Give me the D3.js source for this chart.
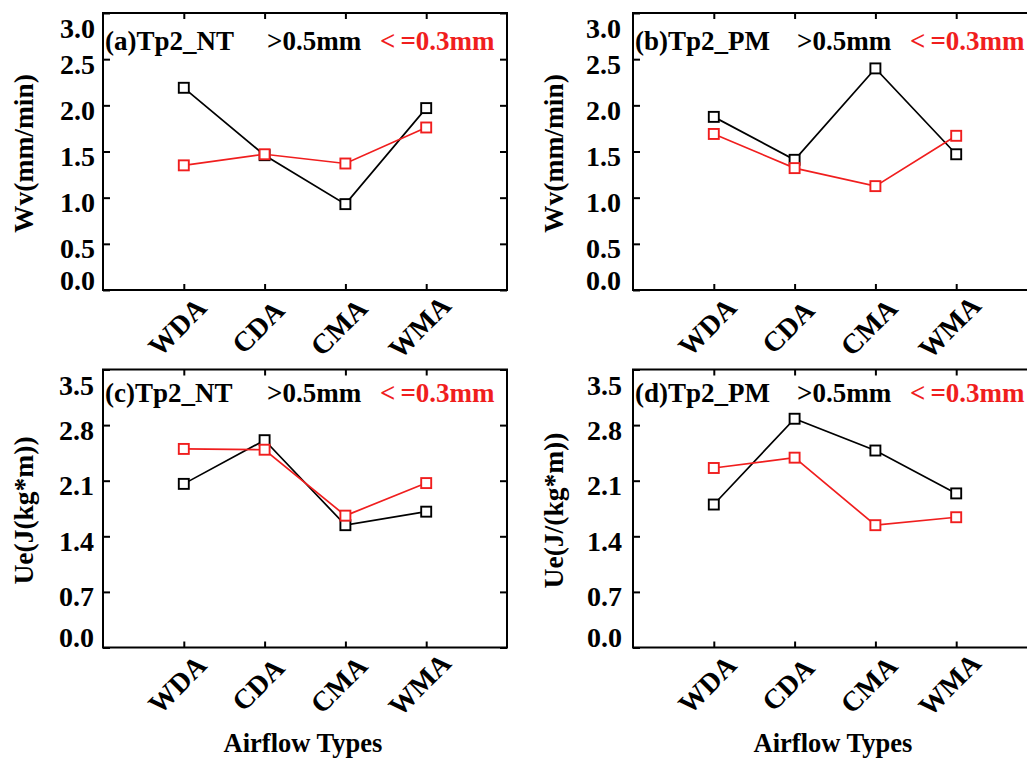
<!DOCTYPE html>
<html>
<head>
<meta charset="utf-8">
<script src="https://cdn.jsdelivr.net/npm/d3@7"></script>
<style>
  body { margin: 0; background: #fff; }
  svg { display: block; }
</style>
</head>
<body>
<svg id="chart" width="1027" height="758"></svg>
<script>
// airflow types on the x axis
const categories = ["WDA", "CDA", "CMA", "WMA"];

// Wv (mm/min), >0.5mm (black) and <=0.3mm (red)
const wvNTCoarse = [2.19, 1.46, 0.93, 1.97];
const wvNTFine   = [1.35, 1.47, 1.37, 1.76];
const wvPMCoarse = [1.875, 1.41, 2.40, 1.47];
const wvPMFine   = [1.69, 1.32, 1.125, 1.67];

// Ue (J/(kg*m))
const ueNTCoarse = [2.06, 2.61, 1.54, 1.71];
const ueNTFine   = [2.50, 2.49, 1.66, 2.07];
const uePMCoarse = [1.80, 2.88, 2.48, 1.94];
const uePMFine   = [2.26, 2.39, 1.54, 1.64];

const wvTicks = [0, 0.5, 1.0, 1.5, 2.0, 2.5, 3.0];
const ueTicks = [0, 0.7, 1.4, 2.1, 2.8, 3.5];

const coarseLabel = ">0.5mm";
const xTitle = "Airflow Types";

const FONT = "'Liberation Serif', 'Times New Roman', serif";
const RED = "#f01e1e";

const panels = [
  { tag: "(a)Tp2_NT", yTitle: "Wv(mm/min)", coarse: wvNTCoarse, fine: wvNTFine, ticks: wvTicks,
    x0: 103, x1: 507, y0: 13, y1: 290, labelGap: 8, legendY: 37, xTitle: false },
  { tag: "(b)Tp2_PM", yTitle: "Wv(mm/min)", coarse: wvPMCoarse, fine: wvPMFine, ticks: wvTicks,
    x0: 633, x1: 1037, y0: 13, y1: 290, labelGap: 12, legendY: 37, xTitle: false },
  { tag: "(c)Tp2_NT", yTitle: "Ue(J(kg*m))", coarse: ueNTCoarse, fine: ueNTFine, ticks: ueTicks,
    x0: 103, x1: 507, y0: 369.5, y1: 647.5, labelGap: 9, legendY: 32, xTitle: true },
  { tag: "(d)Tp2_PM", yTitle: "Ue(J/(kg*m))", coarse: uePMCoarse, fine: uePMFine, ticks: ueTicks,
    x0: 633, x1: 1037, y0: 369.5, y1: 647.5, labelGap: 11, legendY: 32, xTitle: true },
];

const svg = d3.select("#chart");
svg.append("rect").attr("width", 1027).attr("height", 758).attr("fill", "#fff");

panels.forEach(p => {
  const x = d3.scalePoint().domain(categories).range([p.x0, p.x1]).padding(1);
  const y = d3.scaleLinear().domain([0, d3.max(p.ticks)]).range([p.y1, p.y0]);
  const g = svg.append("g");

  const styleAxis = sel => {
    sel.attr("font-family", FONT).attr("font-size", 28).attr("font-weight", "bold");
    sel.select(".domain").remove();
    sel.selectAll(".tick line").attr("stroke", "#000").attr("stroke-width", 2);
    sel.selectAll(".tick text").attr("fill", "#000");
  };

  // left axis, inward ticks; end labels pulled inside the frame
  const last = p.ticks.length - 1;
  g.append("g")
      .attr("transform", `translate(${p.x0},0)`)
      .call(d3.axisLeft(y).tickValues(p.ticks).tickSize(-7).tickSizeOuter(0)
        .tickPadding(p.labelGap).tickFormat(d3.format(".1f")))
      .call(styleAxis)
      .call(a => a.selectAll(".tick text")
        .attr("dy", null)
        .attr("y", (d, i) => i === 0 ? -1 : i === last ? 24.5 : 14));

  // right axis, ticks only
  g.append("g")
      .attr("transform", `translate(${p.x1},0)`)
      .call(d3.axisRight(y).tickValues(p.ticks).tickSize(-7).tickSizeOuter(0).tickFormat(""))
      .call(styleAxis);

  // top axis, ticks only
  g.append("g")
      .attr("transform", `translate(0,${p.y0})`)
      .call(d3.axisTop(x).tickSize(-6).tickSizeOuter(0).tickFormat(""))
      .call(styleAxis);

  // bottom axis with rotated category labels
  g.append("g")
      .attr("transform", `translate(0,${p.y1})`)
      .call(d3.axisBottom(x).tickSize(-6).tickSizeOuter(0))
      .call(styleAxis)
      .call(a => a.selectAll(".tick text")
        .attr("y", null)
        .attr("dy", "0.34em")
        .attr("text-anchor", "middle")
        .attr("transform", "translate(-7,37) rotate(-45)"));

  // frame
  g.append("rect")
      .attr("x", p.x0).attr("y", p.y0)
      .attr("width", p.x1 - p.x0).attr("height", p.y1 - p.y0)
      .attr("fill", "none").attr("stroke", "#000").attr("stroke-width", 2);

  // series
  const line = d3.line().x((d, i) => x(categories[i])).y(d => y(d));
  [[p.coarse, "#000"], [p.fine, RED]].forEach(([vals, col]) => {
    g.append("path")
        .attr("d", line(vals))
        .attr("fill", "none").attr("stroke", col).attr("stroke-width", 1.7);
    g.selectAll(null)
      .data(vals)
      .join("rect")
        .attr("x", (d, i) => x(categories[i]) - 5)
        .attr("y", d => y(d) - 5)
        .attr("width", 10).attr("height", 10)
        .attr("fill", "#fff").attr("stroke", col).attr("stroke-width", 1.9);
  });

  // legend text inside the frame
  const lg = g.append("g")
      .attr("font-family", FONT).attr("font-size", 27).attr("font-weight", "bold");
  lg.append("text").attr("x", p.x0 + 2).attr("y", p.y0 + p.legendY).attr("fill", "#000").text(p.tag);
  lg.append("text").attr("x", p.x0 + 164).attr("y", p.y0 + p.legendY).attr("fill", "#000").text(coarseLabel);
  const fine = lg.append("text").attr("x", p.x0 + 277).attr("y", p.y0 + p.legendY).attr("fill", RED);
  fine.append("tspan").text("<");
  fine.append("tspan").attr("dx", 5).text("=0.3mm");

  // y title
  svg.append("text")
      .attr("transform", `translate(${p.x0 - 79},${(p.y0 + p.y1) / 2 + 2}) rotate(-90)`)
      .attr("dy", "0.33em")
      .attr("text-anchor", "middle")
      .attr("font-family", FONT).attr("font-size", 27.5).attr("font-weight", "bold")
      .text(p.yTitle);

  if (p.xTitle) {
    svg.append("text")
        .attr("x", (p.x0 + p.x1) / 2 - 2)
        .attr("y", 752)
        .attr("text-anchor", "middle")
        .attr("font-family", FONT).attr("font-size", 26.5).attr("font-weight", "bold")
        .text(xTitle);
  }
});
</script>
</body>
</html>
